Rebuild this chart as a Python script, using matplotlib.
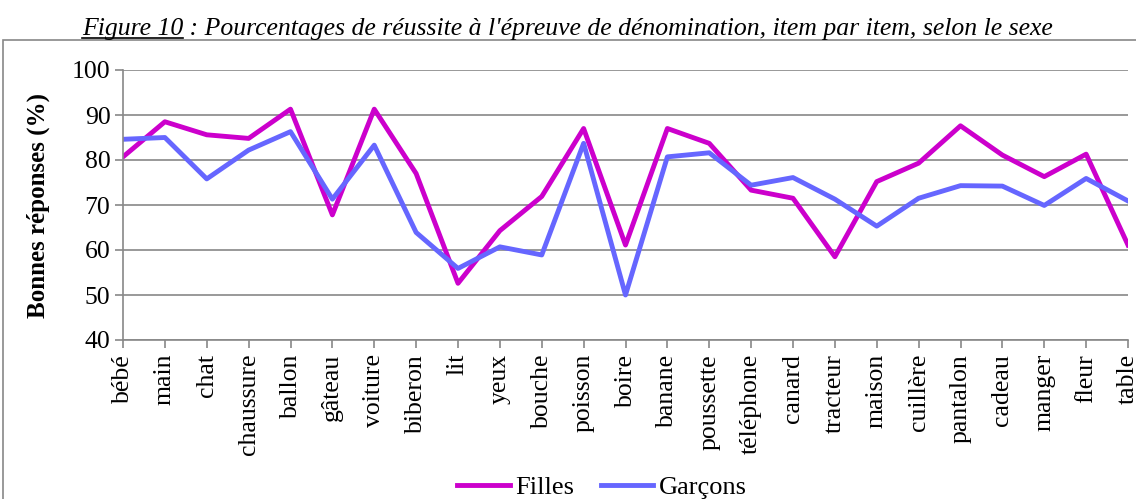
import matplotlib
matplotlib.use('Agg')
import matplotlib.pyplot as plt
from matplotlib.lines import Line2D
from matplotlib.patches import Rectangle

plt.rcParams['font.family'] = 'Liberation Serif'

items = ['bébé', 'main', 'chat', 'chaussure', 'ballon', 'gâteau', 'voiture',
         'biberon', 'lit', 'yeux', 'bouche', 'poisson', 'boire', 'banane',
         'poussette', 'téléphone', 'canard', 'tracteur', 'maison', 'cuillère',
         'pantalon', 'cadeau', 'manger', 'fleur', 'table']
filles = [80.7, 88.5, 85.6, 84.8, 91.3, 67.8, 91.3, 77.0, 52.6, 64.3, 71.9,
          87.0, 61.1, 87.0, 83.7, 73.3, 71.5, 58.5, 75.2, 79.3, 87.6, 81.1,
          76.3, 81.3, 61.1]
garcons = [84.6, 85.0, 75.8, 82.2, 86.3, 71.3, 83.3, 63.9, 55.9, 60.7, 58.9,
           83.7, 50.0, 80.7, 81.6, 74.4, 76.1, 71.3, 65.3, 71.5, 74.3, 74.2,
           69.9, 75.9, 70.9]

W, H = 1136, 499
fig = plt.figure(figsize=(W / 100, H / 100), dpi=100)

# outer chart frame
fig.patches.append(Rectangle((3 / W, 0 - 0.01), 1.05, 1 - 40 / H + 0.01,
                             transform=fig.transFigure, fill=False,
                             edgecolor='#888888', linewidth=1.2))

ax = fig.add_axes([123 / W, 1 - 340 / H, (1128 - 123) / W, 270 / H])
x = list(range(len(items)))
ax.plot(x, filles, color='#CC00CC', lw=3.5, label='Filles')
ax.plot(x, garcons, color='#6666FF', lw=3.5, label='Garçons')

ax.set_xlim(0, len(items) - 1)
ax.set_ylim(40, 100)
ax.set_yticks(range(40, 101, 10))
ax.set_xticks(x)
ax.set_xticklabels(items, rotation=90, fontsize=18.5)
ax.tick_params(axis='y', labelsize=18.5, direction='out', length=6, color='#888888', width=1.2, pad=3)
ax.tick_params(axis='x', direction='out', length=6, color='#888888', width=1.2, pad=4)
ax.grid(axis='y', color='#888888', lw=1.2)
ax.set_axisbelow(True)
for s in ['top', 'right']:
    ax.spines[s].set_visible(False)
for s in ['left', 'bottom']:
    ax.spines[s].set_color('#888888')
    ax.spines[s].set_linewidth(1.2)
for lab in ax.get_xticklabels():
    lab.set_clip_on(False)

fig.text(38 / W, 1 - 205 / H, 'Bonnes réponses (%)', rotation=90,
         fontsize=18, fontweight='bold', ha='center', va='center')

fig.legend(loc='center', bbox_to_anchor=(602 / W, 1 - 487 / H),
           ncol=2, frameon=False, fontsize=19, handlelength=2.0,
           columnspacing=1.0, handletextpad=0.2, borderaxespad=0, borderpad=0)

# title with underlined "Figure 10"
fig.canvas.draw()
r = fig.canvas.get_renderer()
ty = 1 - 35 / H
t1 = fig.text(82 / W, ty, 'Figure 10', fontsize=18.5, style='italic', va='baseline')
t2 = fig.text(0, ty, " : Pourcentages de réussite à l'épreuve de dénomination, item par item, selon le sexe",
              fontsize=18.5, style='italic', va='baseline')
b1 = t1.get_window_extent(r)
t2.set_x(b1.x1 / W)
uy = (H - 37.5) / H
fig.lines.append(Line2D([b1.x0 / W, b1.x1 / W], [uy, uy],
                        transform=fig.transFigure, color='black', lw=1.2))

fig.savefig('out.png', dpi=100)
